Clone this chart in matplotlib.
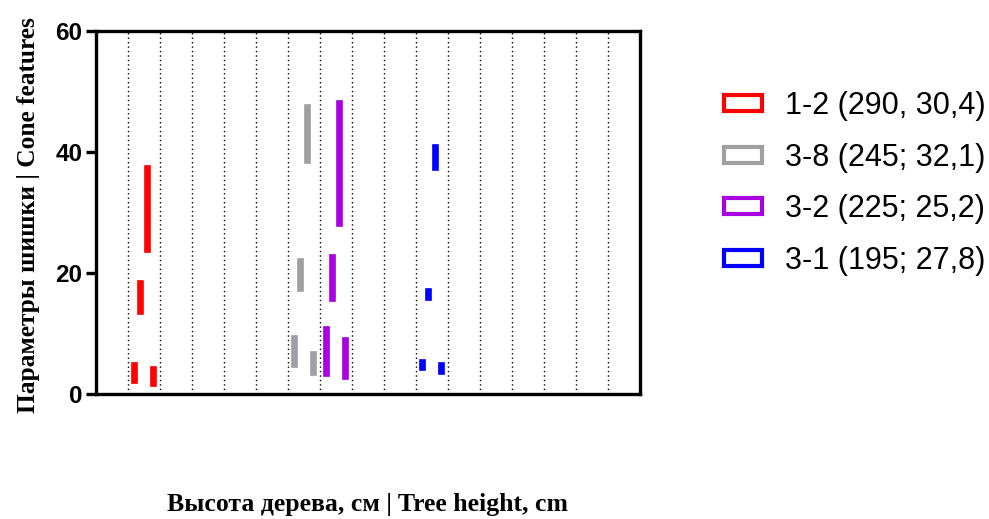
import numpy as np
import matplotlib
matplotlib.use("Agg")
import matplotlib.pyplot as plt
from matplotlib.patches import Patch

# floating bars: min..max of four cone features per tree
labels = ["1-2 (290, 30,4)", "3-8 (245; 32,1)", "3-2 (225; 25,2)", "3-1 (195; 27,8)"]
colors = ["#ff0000", "#a0a0a4", "#a800e0", "#0000ff"]
group_x = [1, 6, 7, 10]
offsets = [0.2, 0.4, 0.6, 0.8]

red_low = [1.8, 13.2, 23.4, 1.4]
red_high = [5.2, 18.7, 37.7, 4.4]
gray_low = [4.4, 17.0, 38.1, 3.2]
gray_high = [9.6, 22.3, 47.7, 7.0]
purple_low = [3.0, 15.4, 27.7, 2.5]
purple_high = [11.1, 22.9, 48.5, 9.3]
blue_low = [4.0, 15.6, 37.1, 3.3]
blue_high = [5.7, 17.4, 41.2, 5.1]

lows = [red_low, gray_low, purple_low, blue_low]
highs = [red_high, gray_high, purple_high, blue_high]

fig = plt.figure(figsize=(9.89, 5.19), dpi=100)
ax = fig.add_axes([0.0971, 0.2408, 0.55, 0.6995])

# dotted vertical grid
for gx in range(1, 17):
    ax.axvline(gx, color="black", lw=1.0, ls=(0, (1, 2.2)), zorder=0)

for gx, lo, hi, c in zip(group_x, lows, highs, colors):
    lo = np.array(lo); hi = np.array(hi)
    xs = gx + np.array(offsets)
    ax.bar(xs, hi - lo, bottom=lo, width=0.15, color=c, edgecolor=c, lw=1.2, zorder=3)

ax.set_xlim(0, 17)
ax.set_ylim(0, 60)
ax.set_yticks([0, 20, 40, 60])
ax.set_xticks([])
for s in ax.spines.values():
    s.set_linewidth(2.4)
ax.tick_params(axis="y", width=2.4, length=7, direction="out", pad=3)
for t in ax.get_yticklabels():
    t.set_fontfamily("Liberation Sans")
    t.set_fontweight("bold")
    t.set_fontsize(17.5)

fig.text(0.029, 0.585, "Параметры шишки | Cone features", family="Liberation Serif",
         fontweight="bold", fontsize=18.3, rotation=90, ha="center", va="center")
fig.text(0.372, 0.027, "Высота дерева, см | Tree height, cm", family="Liberation Serif",
         fontweight="bold", fontsize=18.5, ha="center", va="center")

handles = [Patch(facecolor="white", edgecolor=c, lw=3) for c in colors]
fig.legend(handles, labels, loc="upper left", bbox_to_anchor=(0.732, 0.824),
           frameon=False, borderpad=0, borderaxespad=0,
           prop={"family": "Liberation Sans", "size": 22},
           handlelength=1.25, handleheight=0.43, handletextpad=0.75, labelspacing=0.7)

fig.savefig("out.png", dpi=100)
